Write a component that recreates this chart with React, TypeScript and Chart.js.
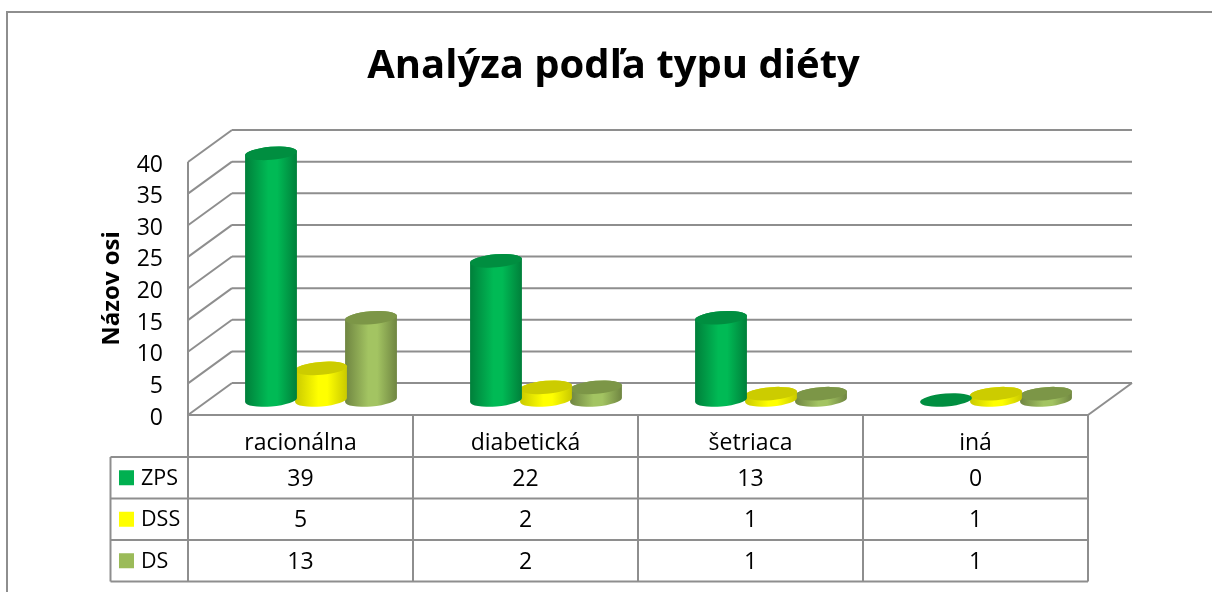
import React, { useEffect, useRef } from "react";
import { Chart, registerables } from "chart.js";

Chart.register(...registerables);

const categories = ["racionálna", "diabetická", "šetriaca", "iná"];
const seriesNames = ["ZPS", "DSS", "DS"];
const zps = [39, 22, 13, 0];
const dss = [5, 2, 1, 1];
const ds = [13, 2, 1, 1];
const yTicks = [0, 5, 10, 15, 20, 25, 30, 35, 40];
const titleText = "Analýza podľa typu diéty";
const yAxisTitle = "Názov osi";

const seriesValues = [zps, dss, ds];
const baseColors = ["#00B050", "#FFFF00", "#9BBB59"];
const lightColors = ["#00BA55", "#FFFF00", "#A3C462"];
const topColors = ["#008E40", "#CCCC00", "#7C9647"];
const edgeColors = ["#007F3A", "#C9C900", "#6F8541"];

const FONT = "'Open Sans', sans-serif";
const LINE = "#8E8E8E";
const DEPTH_X = 44;
const DEPTH_Y = -32;
const BAR_DX = 20.5;
const BAR_DY = -15;
const ROWS = [457, 498.5, 540, 581.5];
const LEGEND_LEFT = 110.5;

function line(ctx: CanvasRenderingContext2D, x1: number, y1: number, x2: number, y2: number) {
  ctx.beginPath();
  ctx.moveTo(x1, y1);
  ctx.lineTo(x2, y2);
  ctx.stroke();
}

const scene = {
  id: "scene",
  beforeDatasetsDraw(chart: any) {
    const { ctx, scales } = chart;
    const y = scales.y;
    const { left, right, bottom, top } = chart.chartArea;
    ctx.save();
    ctx.strokeStyle = LINE;
    ctx.lineWidth = 2;
    // outer frame
    ctx.strokeRect(7, 12, 1300, 800);
    // walls
    for (const t of yTicks) {
      const p = y.getPixelForValue(t);
      line(ctx, left, p, left + DEPTH_X, p + DEPTH_Y);
      line(ctx, left + DEPTH_X, p + DEPTH_Y, right + DEPTH_X, p + DEPTH_Y);
    }
    line(ctx, left, top, left, bottom);
    // floor
    line(ctx, right, bottom, right + DEPTH_X, bottom + DEPTH_Y);
    // data table
    const x = scales.x;
    const cols = [left, ...categories.map((_, i) => (x.getPixelForValue(i) + x.getPixelForValue(i + 1)) / 2)];
    cols[4] = right;
    line(ctx, left, bottom, right, bottom);
    for (const cx of cols) line(ctx, cx, bottom, cx, ROWS[3]);
    for (const r of ROWS) line(ctx, LEGEND_LEFT, r, right, r);
    line(ctx, LEGEND_LEFT, ROWS[0], LEGEND_LEFT, ROWS[3]);
    // table contents
    ctx.textBaseline = "middle";
    seriesNames.forEach((name, s) => {
      const cy = (ROWS[s] + ROWS[s + 1]) / 2;
      ctx.fillStyle = baseColors[s];
      ctx.fillRect(119, cy - 7.5, 15, 15);
      ctx.fillStyle = "#000";
      ctx.font = `21.5px ${FONT}`;
      ctx.textAlign = "left";
      ctx.fillText(name, 141, cy + 1);
      ctx.font = `23px ${FONT}`;
      ctx.textAlign = "center";
      seriesValues[s].forEach((v, i) => ctx.fillText(String(v), x.getPixelForValue(i), cy + 1.5));
    });
    ctx.restore();
  },
  beforeDatasetDraw(chart: any, args: any) {
    const { ctx } = chart;
    const s = args.index;
    const meta = chart.getDatasetMeta(s);
    const rx = 26;
    const ry = 6.5;
    const tilt = -0.08;
    meta.data.forEach((bar: any) => {
      const cx = bar.x + BAR_DX;
      const yb = bar.base + BAR_DY;
      const yt = bar.y + BAR_DY;
      const g = ctx.createLinearGradient(cx - rx, 0, cx + rx, 0);
      g.addColorStop(0, edgeColors[s]);
      g.addColorStop(0.45, lightColors[s]);
      g.addColorStop(0.62, lightColors[s]);
      g.addColorStop(1, edgeColors[s]);
      ctx.save();
      if (yb - yt > 0.5) {
        ctx.fillStyle = g;
        ctx.beginPath();
        ctx.ellipse(cx, yb, rx, ry, tilt, Math.PI, 0, true);
        ctx.ellipse(cx, yt, rx, ry, tilt, 0, Math.PI, true);
        ctx.closePath();
        ctx.fill();
      }
      ctx.fillStyle = topColors[s];
      ctx.beginPath();
      ctx.ellipse(cx, yt, rx, ry, tilt, 0, Math.PI * 2);
      ctx.fill();
      ctx.restore();
    });
    return false;
  },
};

export default function App() {
  const ref = useRef<HTMLCanvasElement>(null);
  useEffect(() => {
    const chart = new Chart(ref.current!, {
      type: "bar",
      plugins: [scene],
      data: {
        labels: categories,
        datasets: seriesNames.map((name, s) => ({
          label: name,
          data: seriesValues[s],
          backgroundColor: baseColors[s],
          categoryPercentage: 2 / 3,
          barPercentage: 1,
        })),
      },
      options: {
        responsive: false,
        animation: false,
        layout: { padding: { left: 15, right: 0, top: 0, bottom: 0 } },
        plugins: {
          legend: { display: false },
          tooltip: { enabled: false },
          title: {
            display: true,
            text: titleText,
            color: "#000",
            font: { family: FONT, size: 40, weight: "bold", lineHeight: 1.2 },
            padding: { top: 43, bottom: 71 },
          },
        },
        scales: {
          x: {
            grid: { display: false },
            border: { display: false },
            ticks: { color: "#000", font: { family: FONT, size: 23 }, padding: 7, maxRotation: 0 },
            afterFit(s: any) { s.height = 177; },
          },
          y: {
            min: 0,
            max: 40,
            grid: { display: false, drawTicks: false },
            border: { display: false },
            ticks: { stepSize: 5, color: "#000", font: { family: FONT, size: 23 }, padding: 25, labelOffset: 3 },
            title: {
              display: true,
              text: yAxisTitle,
              color: "#000",
              font: { family: FONT, size: 24, weight: "bold" },
              padding: { top: 83, bottom: 0 },
            },
            afterFit(s: any) { s.width = 173; },
          },
          spacer: {
            type: "linear",
            position: "right",
            grid: { display: false },
            border: { display: false },
            ticks: { display: false },
            afterFit(s: any) { s.width = 124; },
          },
        },
      } as any,
    } as any);
    return () => chart.destroy();
  }, []);
  return (
    <canvas
      ref={ref}
      width={1212}
      height={592}
      style={{ position: "fixed", left: 0, top: 0, display: "block", background: "#fff" }}
    />
  );
}
